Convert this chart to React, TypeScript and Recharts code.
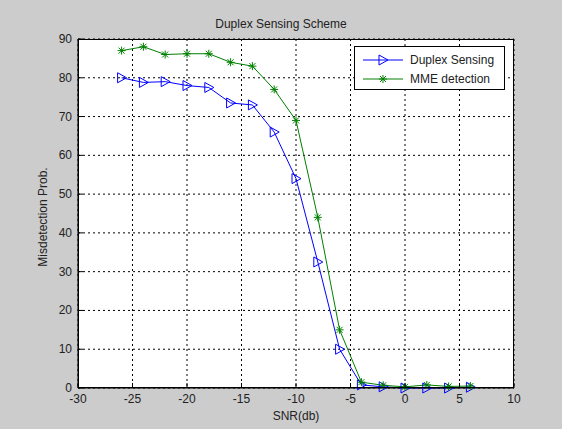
import React from 'react';
import { LineChart, Line, XAxis, YAxis, CartesianGrid } from 'recharts';

const snr = [-26, -24, -22, -20, -18, -16, -14, -12, -10, -8, -6, -4, -2, 0, 2, 4, 6];
const duplex = [80, 78.8, 79, 78, 77.5, 73.5, 73, 66, 54, 32.5, 10, 0.8, 0.3, 0, 0, 0, 0.2];
const mme = [87, 88, 86, 86.2, 86.2, 84, 83, 77, 69, 44, 15, 1.5, 0.7, 0.3, 0.8, 0.4, 0.5];

const xTicks = [-30, -25, -20, -15, -10, -5, 0, 5, 10];
const yTicks = [0, 10, 20, 30, 40, 50, 60, 70, 80, 90];

const data = snr.map((s, i) => ({ snr: s, duplex: duplex[i], mme: mme[i] }));

const FONT = '"Liberation Sans", Arial, sans-serif';
const TXT = '#222';
const BLUE = '#0000ff';
const GREEN = '#008000';

const BottomTick = ({ x, y, payload }: any) => (
    <g>
        <line x1={x} y1={y} x2={x} y2={y - 5} stroke="#000" />
        <text x={x} y={y + 15} textAnchor="middle" fontSize={12} fill={TXT} fontFamily={FONT}>{payload.value}</text>
    </g>
);

const TopTick = ({ x, y }: any) => <line x1={x} y1={y} x2={x} y2={y + 5} stroke="#000" />;

const LeftTick = ({ x, y, payload }: any) => (
    <g>
        <line x1={x} y1={y} x2={x + 5} y2={y} stroke="#000" />
        <text x={x - 6} y={y + 4} textAnchor="end" fontSize={12} fill={TXT} fontFamily={FONT}>{payload.value}</text>
    </g>
);

const RightTick = ({ x, y }: any) => <line x1={x} y1={y} x2={x - 5} y2={y} stroke="#000" />;

const Triangle = ({ cx, cy }: any) => (
    <path d={`M${cx - 4},${cy - 5} L${cx + 5},${cy} L${cx - 4},${cy + 5} Z`} fill="none" stroke={BLUE} strokeWidth={1} />
);

const Star = ({ cx, cy }: any) => (
    <g stroke={GREEN} strokeWidth={1}>
        <line x1={cx - 4} y1={cy} x2={cx + 4} y2={cy} />
        <line x1={cx} y1={cy - 4} x2={cx} y2={cy + 4} />
        <line x1={cx - 3} y1={cy - 3} x2={cx + 3} y2={cy + 3} />
        <line x1={cx - 3} y1={cy + 3} x2={cx + 3} y2={cy - 3} />
    </g>
);

export default function App() {
    return (
        <div style={{ position: 'fixed', left: 0, top: 0, width: 562, height: 429, background: '#cccccc', fontFamily: FONT }}>
            <div style={{ position: 'absolute', left: 78, top: 39, width: 436, height: 349, background: '#fff' }} />
            <LineChart width={562} height={429} data={data} margin={{ top: 39, right: 48, bottom: 11, left: 0 }}
                style={{ position: 'absolute', left: 0, top: 0 }}>
                <CartesianGrid xAxisId="b" yAxisId="l" stroke="#000" strokeDasharray="2 3" />
                <XAxis xAxisId="b" dataKey="snr" type="number" domain={[-30, 10]} ticks={xTicks} height={30}
                    tickSize={0} tickMargin={0} tick={<BottomTick />} axisLine={{ stroke: '#000' }} tickLine={false} />
                <XAxis xAxisId="t" orientation="top" dataKey="snr" type="number" domain={[-30, 10]} ticks={xTicks} height={0}
                    tickSize={0} tickMargin={0} tick={<TopTick />} axisLine={{ stroke: '#000' }} tickLine={false} />
                <YAxis yAxisId="l" type="number" domain={[0, 90]} ticks={yTicks} width={78}
                    tickSize={0} tickMargin={0} tick={<LeftTick />} axisLine={{ stroke: '#000' }} tickLine={false} />
                <YAxis yAxisId="r" orientation="right" type="number" domain={[0, 90]} ticks={yTicks} width={0}
                    tickSize={0} tickMargin={0} tick={<RightTick />} axisLine={{ stroke: '#000' }} tickLine={false} />
                <Line xAxisId="b" yAxisId="l" dataKey="duplex" stroke={BLUE} strokeWidth={1} dot={<Triangle />} isAnimationActive={false} />
                <Line xAxisId="b" yAxisId="l" dataKey="mme" stroke={GREEN} strokeWidth={1} dot={<Star />} isAnimationActive={false} />
            </LineChart>
            <div style={{ position: 'absolute', left: 78, top: 39, width: 434, height: 347, border: '1px solid #000', pointerEvents: 'none' }} />
            <div style={{ position: 'absolute', left: 0, top: 17, width: 562, textAlign: 'center', fontSize: 12, color: TXT }}>Duplex Sensing Scheme</div>
            <div style={{ position: 'absolute', left: 78, width: 436, top: 409, textAlign: 'center', fontSize: 12, color: TXT }}>SNR(db)</div>
            <div style={{ position: 'absolute', left: 43, top: 217, fontSize: 12, color: TXT, whiteSpace: 'nowrap', transform: 'translate(-50%, -50%) rotate(-90deg)' }}>Misdetection Prob.</div>
            <div style={{ position: 'absolute', left: 354, top: 46, width: 149, height: 42, background: '#fff', border: '1px solid #000', fontSize: 12, color: TXT }}>
                <svg width={149} height={42} style={{ position: 'absolute', left: 0, top: 0 }}>
                    <line x1={8} y1={13} x2={48} y2={13} stroke={BLUE} />
                    <Triangle cx={28} cy={13} />
                    <line x1={8} y1={32} x2={48} y2={32} stroke={GREEN} />
                    <Star cx={28} cy={32} />
                    <text x={55} y={17} fontSize={12} fill={TXT} fontFamily={FONT}>Duplex Sensing</text>
                    <text x={55} y={36} fontSize={12} fill={TXT} fontFamily={FONT}>MME detection</text>
                </svg>
            </div>
        </div>
    );
}
